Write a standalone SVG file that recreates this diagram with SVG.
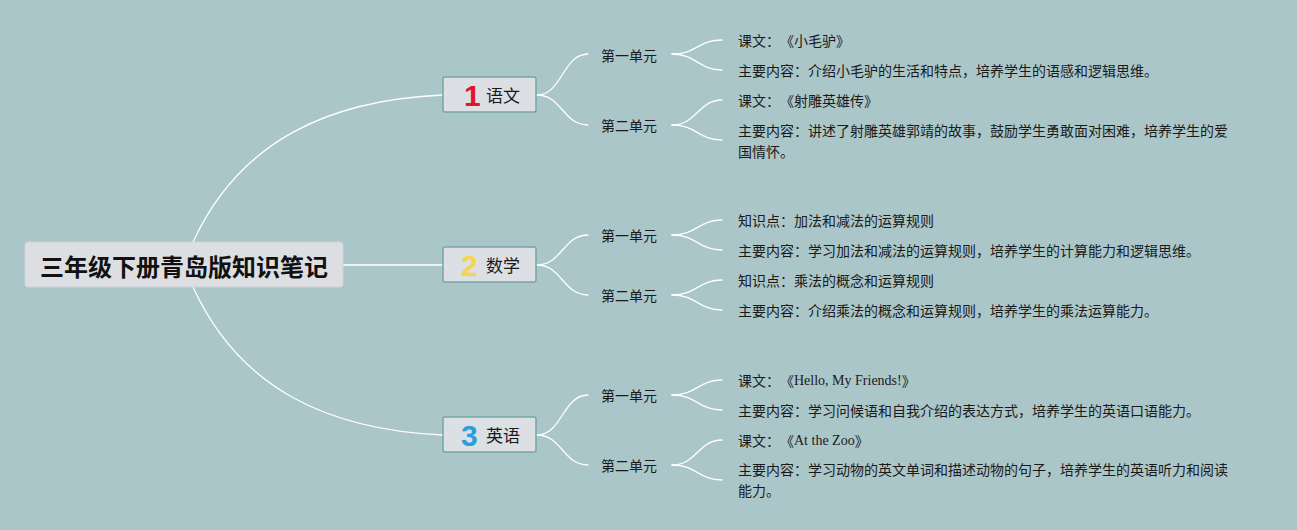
<svg xmlns="http://www.w3.org/2000/svg" width="1297" height="530" viewBox="0 0 1297 530">
<style>
text{text-spacing-trim:space-all}
.bg{fill:#abc6c9}
.ln{fill:none;stroke:#ffffff;stroke-width:1.3;stroke-linecap:round}
.root{fill:#dcdee2;stroke:#cfd3d6;stroke-width:1}
.rt{font-family:"Noto Sans CJK SC","Noto Sans",sans-serif;font-size:24px;font-weight:700;fill:#111;text-anchor:middle;dominant-baseline:central}
.br{fill:#dcdfe3;stroke:#78a6a2;stroke-width:1.5}
.bt{font-family:"Noto Sans CJK SC","Noto Sans",sans-serif;font-size:17px;fill:#1a1a1a;dominant-baseline:central}
.num{font-family:"Liberation Sans","DejaVu Sans",sans-serif;font-size:30px;font-weight:700;dominant-baseline:central}
.ut{font-family:"Noto Sans CJK SC","Noto Sans",sans-serif;font-size:14px;fill:#1a1a1a;dominant-baseline:central}
.lt{font-family:"Noto Sans CJK SC","Noto Sans",sans-serif;font-size:14px;fill:#1a1a1a;dominant-baseline:central}
.en{font-family:"Liberation Serif","Times New Roman",serif}
</style>
<rect class="bg" x="0" y="0" width="1297" height="530"/>
<g id="connectors">
<path class="ln" d="M193 242 C240 140 330 100 443 95"/>
<path class="ln" d="M343 265 L443 265"/>
<path class="ln" d="M193 287 C240 390 330 430 443 435"/>
<path class="ln" d="M537 95 C562 95 563 54 588 54"/>
<path class="ln" d="M537 95 C562 95 563 125 588 125"/>
<path class="ln" d="M672 54 C697 54 698 40 722 40"/>
<path class="ln" d="M672 54 C697 54 698 70 722 70"/>
<path class="ln" d="M672 125 C697 125 698 100 722 100"/>
<path class="ln" d="M672 125 C697 125 698 140 722 140"/>
<path class="ln" d="M537 265 C562 265 563 235 588 235"/>
<path class="ln" d="M537 265 C562 265 563 295 588 295"/>
<path class="ln" d="M672 235 C697 235 698 220 722 220"/>
<path class="ln" d="M672 235 C697 235 698 250 722 250"/>
<path class="ln" d="M672 295 C697 295 698 280 722 280"/>
<path class="ln" d="M672 295 C697 295 698 310 722 310"/>
<path class="ln" d="M537 435 C562 435 563 395 588 395"/>
<path class="ln" d="M537 435 C562 435 563 465 588 465"/>
<path class="ln" d="M672 395 C697 395 698 380 722 380"/>
<path class="ln" d="M672 395 C697 395 698 410 722 410"/>
<path class="ln" d="M672 465 C697 465 698 440 722 440"/>
<path class="ln" d="M672 465 C697 465 698 480 722 480"/>
</g>
<g id="root">
<rect class="root" x="25" y="242" width="318" height="45" rx="3"/>
<text class="rt" x="184" y="265">三年级下册青岛版知识笔记</text>
</g>
<g id="n-yuwen">
<rect class="br" x="443" y="77" width="93" height="35" rx="2"/>
<text class="num" x="464" y="95" fill="#e3142b">1</text>
<text class="bt" x="486" y="94">语文</text>
</g>
<g id="n-shuxue">
<rect class="br" x="443" y="247" width="93" height="35" rx="2"/>
<text class="num" x="461" y="265" fill="#f4d64a">2</text>
<text class="bt" x="486" y="264">数学</text>
</g>
<g id="n-yingyu">
<rect class="br" x="443" y="417" width="93" height="35" rx="2"/>
<text class="num" x="461" y="435" fill="#2b9ddb">3</text>
<text class="bt" x="486" y="434">英语</text>
</g>
<g id="u-yw1"><text class="ut" x="601" y="55">第一单元</text></g>
<g id="u-yw2"><text class="ut" x="601" y="125">第二单元</text></g>
<g id="u-sx1"><text class="ut" x="601" y="235">第一单元</text></g>
<g id="u-sx2"><text class="ut" x="601" y="295">第二单元</text></g>
<g id="u-yy1"><text class="ut" x="601" y="395">第一单元</text></g>
<g id="u-yy2"><text class="ut" x="601" y="465">第二单元</text></g>
<g id="l-yw1a"><text class="lt" x="738" y="40">课文：《小毛驴》</text></g>
<g id="l-yw1b"><text class="lt" x="738" y="70">主要内容：介绍小毛驴的生活和特点，培养学生的语感和逻辑思维。</text></g>
<g id="l-yw2a"><text class="lt" x="738" y="100">课文：《射雕英雄传》</text></g>
<g id="l-yw2b"><text class="lt" x="738" y="130">主要内容：讲述了射雕英雄郭靖的故事，鼓励学生勇敢面对困难，培养学生的爱</text><text class="lt" x="738" y="151">国情怀。</text></g>
<g id="l-sx1a"><text class="lt" x="738" y="220">知识点：加法和减法的运算规则</text></g>
<g id="l-sx1b"><text class="lt" x="738" y="250">主要内容：学习加法和减法的运算规则，培养学生的计算能力和逻辑思维。</text></g>
<g id="l-sx2a"><text class="lt" x="738" y="280">知识点：乘法的概念和运算规则</text></g>
<g id="l-sx2b"><text class="lt" x="738" y="310">主要内容：介绍乘法的概念和运算规则，培养学生的乘法运算能力。</text></g>
<g id="l-yy1a"><text class="lt" x="738" y="380">课文：《<tspan class="en">Hello, My Friends!</tspan>》</text></g>
<g id="l-yy1b"><text class="lt" x="738" y="410">主要内容：学习问候语和自我介绍的表达方式，培养学生的英语口语能力。</text></g>
<g id="l-yy2a"><text class="lt" x="738" y="440">课文：《<tspan class="en">At the Zoo</tspan>》</text></g>
<g id="l-yy2b"><text class="lt" x="738" y="469">主要内容：学习动物的英文单词和描述动物的句子，培养学生的英语听力和阅读</text><text class="lt" x="738" y="490">能力。</text></g>
</svg>
